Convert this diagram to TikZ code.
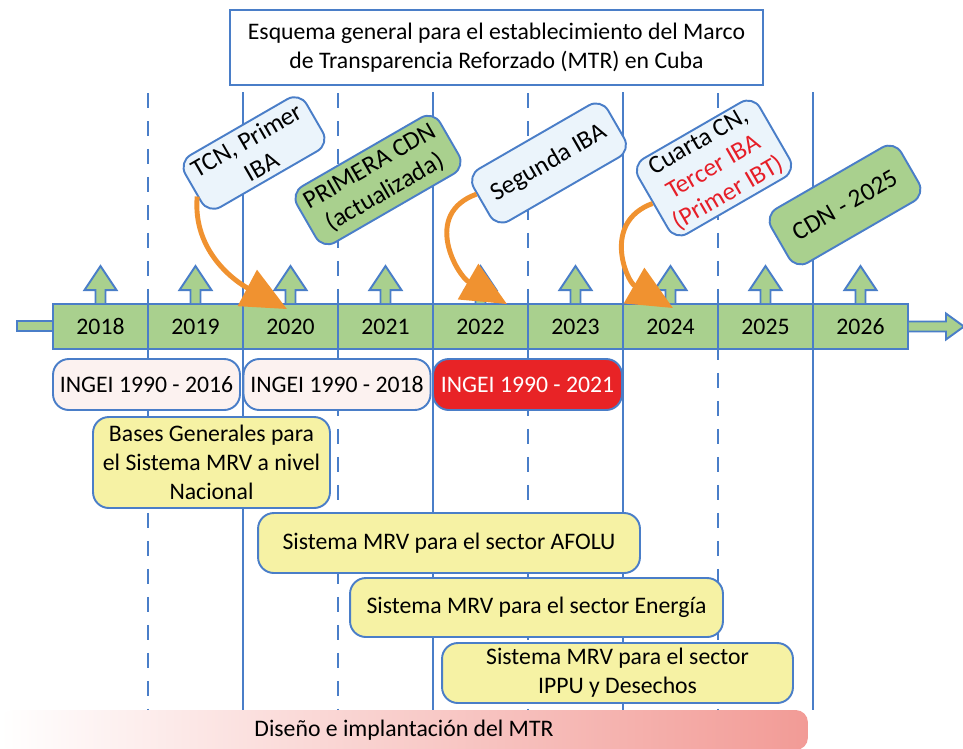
\documentclass[tikz,border=0pt]{standalone}
\usepackage{fontspec}
\setmainfont{Carlito}
\usepackage{tikz}
\usepackage{xcolor}
\usetikzlibrary{arrows.meta, positioning, calc}
\definecolor{lineblue}{RGB}{74,126,200}
\definecolor{yeargreen}{RGB}{169,208,142}
\definecolor{calloutblue}{RGB}{235,244,251}
\definecolor{ingeipink}{RGB}{252,242,240}
\definecolor{ingeired}{RGB}{232,35,38}
\definecolor{mrvyellow}{RGB}{246,242,164}
\definecolor{arroworange}{RGB}{240,146,48}
\definecolor{mtrsalmon}{RGB}{242,155,150}
\definecolor{textred}{RGB}{230,30,40}
\tikzstyle{yearbox} = [rectangle, draw=lineblue, fill=yeargreen, line width=1.1pt,
minimum width=1.9cm, minimum height=0.9cm, inner sep=0pt]
\tikzstyle{uparrow} = [draw=lineblue, fill=yeargreen, line width=1.1pt]
\tikzstyle{callout} = [rectangle, rounded corners=8pt, draw=lineblue, line width=1.1pt,
rotate=30, align=center, inner sep=2pt, font=\fontsize{14.5}{17}\selectfont]
\tikzstyle{ingei} = [rectangle, rounded corners=9pt, draw=lineblue, fill=ingeipink,
line width=1.1pt, minimum width=3.74cm, minimum height=1.02cm, inner sep=0pt]
\tikzstyle{mrvbox} = [rectangle, rounded corners=9pt, draw=lineblue, fill=mrvyellow,
line width=1.1pt, align=center, inner sep=0pt]
\tikzstyle{solidline} = [lineblue, line width=1.5pt]
\tikzstyle{dashline} = [lineblue, line width=1.5pt, dash pattern=on 0.3cm off 0.26cm]
\tikzstyle{orangearrow} = [line width=2.8pt, arroworange, -{Triangle[length=0.9cm,width=0.8cm]}]

\begin{document}
\begin{tikzpicture}[x=0.02cm, y=0.02cm, font=\fontsize{13.5}{16.5}\selectfont]
    \useasboundingbox (0,0) rectangle (963,-748);
    % year separators
    \foreach \xx in {243,433,623,813}
        \draw[solidline] (\xx,-92) -- (\xx,-710);
    \foreach \xx in {148,338,528,718}
        \draw[dashline] (\xx,-93) -- (\xx,-710);

    \node[draw=lineblue, fill=white, line width=1.1pt, minimum width=10.66cm, minimum height=1.5cm, align=center]
        (title) at (496.5,-47.5) {Esquema general para el establecimiento del Marco\\de Transparencia Reforzado (MTR) en Cuba};

    % bottom bar
    \node[rectangle, rounded corners=7pt, left color=white, right color=mtrsalmon, minimum width=16.16cm, minimum height=0.8cm]
        (mtr) at (404,-730) {Diseño e implantación del MTR};

    % timeline
    \filldraw[uparrow] (17,-321) rectangle (53,-331);
    \foreach \yr [count=\i from 0] in {2018,...,2026}
        \node[yearbox] (y\yr) at ({100.5+95*\i},-326.5) {\yr};
    \foreach \yr in {2018,...,2026}
        \draw[uparrow] (y\yr.north) ++(-5,0) -- ++(0,13) -- ++(-11,0) -- ++(16,24) -- ++(16,-24) -- ++(-11,0) -- ++(0,-13);
    \draw[uparrow] ([yshift=0.1cm]y2026.east) -- ++(37,0) -- ++(0,8) -- ++(18,-13) -- ++(-18,-13) -- ++(0,8) -- ++(-37,0);

    % inventories
    \node[ingei] (ingei1) at (146.5,-384.5) {INGEI 1990 - 2016};
    \node[ingei] (ingei2) at (337,-384.5) {INGEI 1990 - 2018};
    \node[ingei, fill=ingeired, text=white, minimum width=3.78cm] (ingei3) at (527.5,-384.5) {INGEI 1990 - 2021};

    % MRV
    \node[mrvbox, minimum width=4.74cm, minimum height=1.82cm] (bases) at (211.5,-462.5)
        {Bases Generales para\\el Sistema MRV a nivel\\Nacional};
    \node[mrvbox, minimum width=7.64cm, minimum height=1.2cm] (afolu) at (449,-543)
        {Sistema MRV para el sector AFOLU};
    \node[mrvbox, minimum width=7.46cm, minimum height=1.18cm] (energia) at (536.5,-607.5)
        {Sistema MRV para el sector Energía};
    \node[mrvbox, minimum width=7.02cm, minimum height=1.2cm] (ippu) at (617.5,-673)
        {Sistema MRV para el sector\\IPPU y Desechos};

    % reports
    \node[callout, fill=calloutblue, minimum width=2.8cm, minimum height=1.2cm] (tcn) at (254,-153) {TCN, Primer\\IBA};
    \node[callout, fill=yeargreen, minimum width=3.3cm, minimum height=1.3cm] (cdn1) at (378,-180) {PRIMERA CDN\\(actualizada)};
    \node[callout, fill=calloutblue, minimum width=3.1cm, minimum height=1.2cm] (iba2) at (549,-163) {Segunda IBA};
    \node[callout, fill=calloutblue, minimum width=2.8cm, minimum height=1.7cm] (cn4) at (714,-168)
        {Cuarta CN,\\\textcolor{textred}{Tercer IBA}\\\textcolor{textred}{(Primer IBT)}};
    \node[callout, fill=yeargreen, minimum width=3cm, minimum height=1.25cm] (cdn25) at (845,-205) {CDN - 2025};

    \draw[orangearrow] ($(tcn.west)!0.3!(tcn.south west)$) to[out=-95, in=152] ([xshift=-0.07cm, yshift=-0.12cm]y2020.north);
    \draw[orangearrow] ($(iba2.west)!0.3!(iba2.north west)$) to[out=200, in=150, looseness=1.3] ([xshift=0.53cm, yshift=-0.02cm]y2022.north);
    \draw[orangearrow] (cn4.west) to[out=200, in=150, looseness=1.3] ([xshift=0.05cm, yshift=-0.1cm]y2024.north);
\end{tikzpicture}
\end{document}
